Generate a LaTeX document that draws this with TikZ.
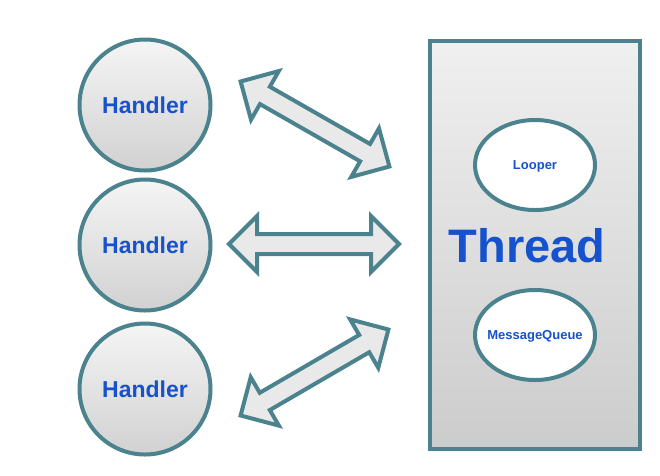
\documentclass[tikz,border=0pt]{standalone}
\usepackage{fontspec}
\setmainfont{Liberation Sans}
\usetikzlibrary{shapes.geometric, calc}

\definecolor{edgeteal}{HTML}{4A838D}
\definecolor{labelblue}{HTML}{1652CC}

\tikzset{
  handler/.style={circle, minimum size=131pt, inner sep=0pt, draw=edgeteal, line width=4pt,
    top color=gray!8, bottom color=gray!36, text=labelblue,
    font=\bfseries\fontsize{23pt}{23pt}\selectfont},
  threadbox/.style={rectangle, minimum width=210pt, minimum height=408pt, inner sep=0pt,
    draw=edgeteal, line width=4pt, top color=gray!12, bottom color=gray!40},
  part/.style={ellipse, minimum width=120pt, minimum height=90pt, inner sep=0pt, text depth=0pt,
    draw=edgeteal, line width=4pt, fill=white, text=labelblue,
    font=\bfseries\fontsize{13pt}{13pt}\selectfont},
  threadlabel/.style={anchor=base, inner sep=0pt, text=labelblue,
    font=\bfseries\fontsize{47pt}{47pt}\selectfont},
  fatarrow/.style={draw=edgeteal, line width=4pt, line join=miter, fill=gray!17}
}

\begin{document}
\begin{tikzpicture}[x=1pt, y=-1pt]
\useasboundingbox (0,0) rectangle (660,475);

% Handlers
\node[handler] (h1) at (145,105) {Handler};
\node[handler] (h2) at (145,245) {Handler};
\node[handler] (h3) at (145,389) {Handler};

% Thread
\node[threadbox] (thread) at (535,245) {};
\node[part] (looper) at (535,165) {Looper};
\node[part] (mqueue) at (535,335) {\makebox[0pt]{MessageQueue}};
\node[threadlabel] (tlabel) at (527,262) {Thread};

% Arrow ends
\coordinate (a1s) at (238,80);  \coordinate (a1e) at (392,168);
\coordinate (a2s) at (226,244); \coordinate (a2e) at (402,244);
\coordinate (a3s) at (238,417); \coordinate (a3e) at (391,328);

% Double arrows
\foreach \s/\e in {a1s/a1e, a2s/a2e, a3s/a3e}
  \draw[fatarrow] ($(\s)!3pt!(\e)$)
    -- ($(\s)!31pt!(\e)!28pt!90:(\e)$)
    -- ($(\s)!31pt!(\e)!10pt!90:(\e)$)
    -- ($(\e)!31pt!(\s)!10pt!-90:(\s)$)
    -- ($(\e)!31pt!(\s)!28pt!-90:(\s)$)
    -- ($(\e)!3pt!(\s)$)
    -- ($(\e)!31pt!(\s)!28pt!90:(\s)$)
    -- ($(\e)!31pt!(\s)!10pt!90:(\s)$)
    -- ($(\s)!31pt!(\e)!10pt!-90:(\e)$)
    -- ($(\s)!31pt!(\e)!28pt!-90:(\e)$)
    -- cycle;

\end{tikzpicture}
\end{document}
